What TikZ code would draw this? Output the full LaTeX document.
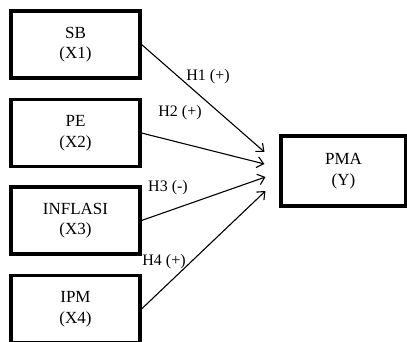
\documentclass[tikz,border=0pt]{standalone}
\usepackage{fontspec}
\setmainfont{Liberation Serif}
\usetikzlibrary{arrows.meta,calc,positioning}

\tikzset{
  varbox/.style={draw,line width=3.1pt,minimum width=129pt,minimum height=67pt,
    align=center,font=\fontsize{17}{20.5}\selectfont},
  link/.style={line width=1.1pt,-{Straight Barb[length=6.5pt,width=11pt]}},
  hyp/.style={font=\fontsize{16}{19}\selectfont,inner sep=0pt}
}

\begin{document}
\begin{tikzpicture}[x=1pt,y=-1pt]
  \useasboundingbox (0,0) rectangle (407,342);
  \clip (0,0) rectangle (407,342);

  % independent variables
  \node[varbox] (sb) at (75.5,44.5) {SB\\(X1)};
  \node[varbox] (pe) at (75.5,133) {PE\\(X2)};
  \node[varbox] (inf) at (75.5,220.5) {INFLASI\\(X3)};
  \node[varbox] (ipm) at (75.5,309) {IPM\\(X4)};

  % dependent variable
  \node[varbox,minimum width=125pt,minimum height=70pt] (pma) at (343.5,171) {PMA\\(Y)};

  % arrow ends in front of PMA
  \coordinate (t1) at ($(pma.west)+(-15,-19)$);
  \coordinate (t2) at ($(pma.west)+(-15,-7)$);
  \coordinate (t3) at ($(pma.west)+(-14,6)$);
  \coordinate (t4) at ($(pma.west)+(-14,20)$);

  \draw[link] (sb.east) -- (t1);
  \draw[link] (pe.east) -- (t2);
  \draw[link] (inf.east) -- (t3);
  \draw[link] (ipm.east) -- (t4);

  \node[hyp] (h1) at (208,77) {H1 (+)};
  \node[hyp] (h2) at (180,113) {H2 (+)};
  \node[hyp] (h3) at (168,188) {H3 (-)};
  \node[hyp] (h4) at (164,262) {H4 (+)};
\end{tikzpicture}
\end{document}
